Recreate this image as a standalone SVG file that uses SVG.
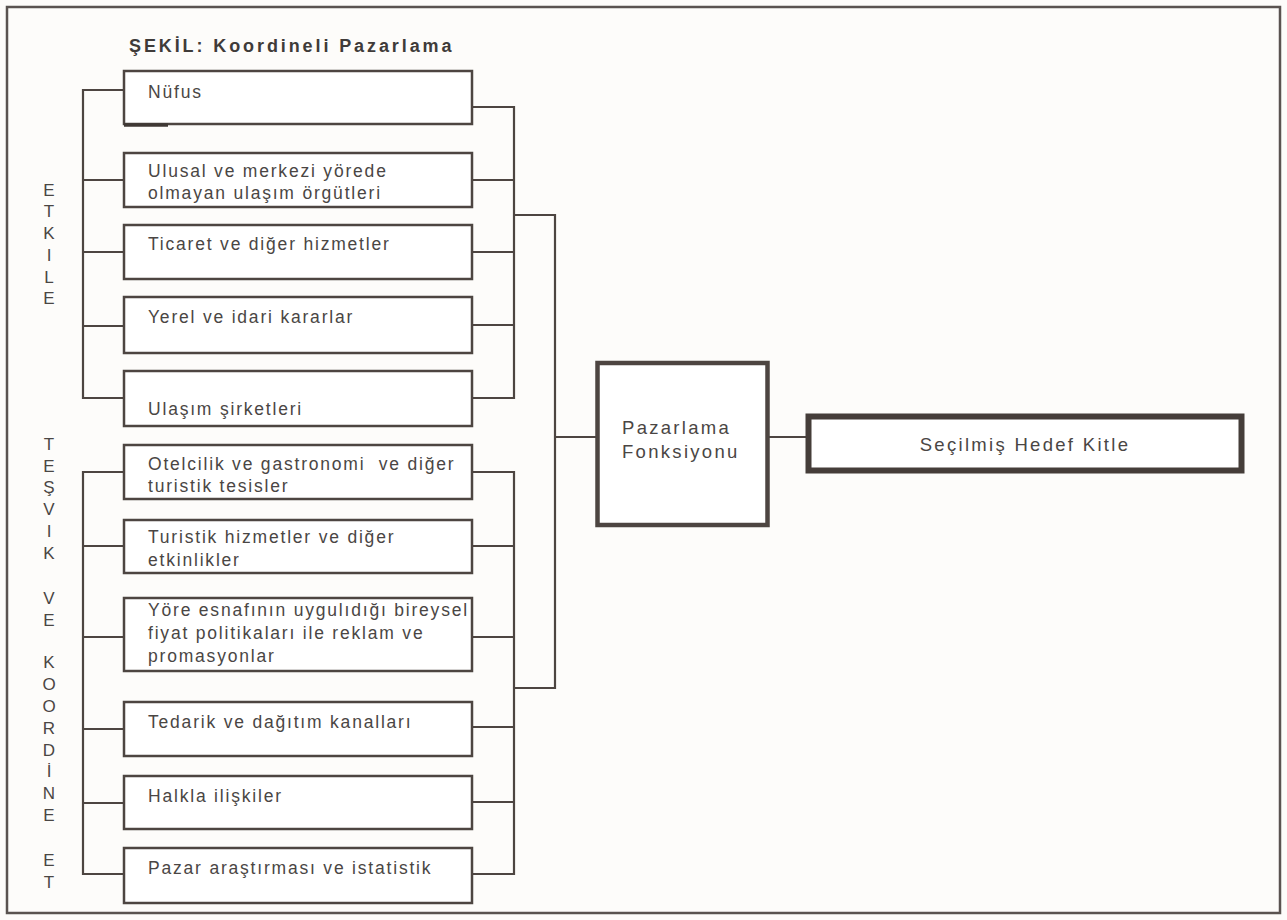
<svg xmlns="http://www.w3.org/2000/svg" width="1287" height="920" viewBox="0 0 1287 920">
<style>
.bg{fill:#fdfcfa}
.frame{fill:none;stroke:#5a5350;stroke-width:2.5}
.box{fill:#ffffff;stroke:#4d4541;stroke-width:2.5}
.thick{fill:#ffffff;stroke:#4d4541;stroke-width:4.5}
.thicker{fill:#ffffff;stroke:#453d39;stroke-width:6}
.conn{fill:none;stroke:#4d4541;stroke-width:2.2}
.t{font-family:"Liberation Sans",Arial,Helvetica,sans-serif;font-size:17.5px;letter-spacing:1.8px;fill:#4a4644}
.v{font-family:"Liberation Sans",Arial,Helvetica,sans-serif;font-size:17px;fill:#4a4644;text-anchor:middle}
.title{font-family:"Liberation Sans",Arial,Helvetica,sans-serif;font-size:18px;font-weight:bold;letter-spacing:2.9px;fill:#3f3b39}
.big{font-family:"Liberation Sans",Arial,Helvetica,sans-serif;font-size:18.5px;letter-spacing:2.3px;fill:#4a4644}
</style>
<rect class="bg" x="0" y="0" width="1287" height="920"/>
<rect class="frame" x="7" y="7" width="1273" height="906"/>
<text class="title" x="129" y="52">ŞEKİL: Koordineli Pazarlama</text>

<g id="letters-etkile">
<text class="v" x="49" y="196">E</text>
<text class="v" x="49" y="217">T</text>
<text class="v" x="49" y="239">K</text>
<text class="v" x="49" y="261">I</text>
<text class="v" x="49" y="283">L</text>
<text class="v" x="49" y="304">E</text>
</g>
<g id="letters-tesvik">
<text class="v" x="49" y="450">T</text>
<text class="v" x="49" y="472">E</text>
<text class="v" x="49" y="493">Ş</text>
<text class="v" x="49" y="515">V</text>
<text class="v" x="49" y="537">I</text>
<text class="v" x="49" y="559">K</text>
<text class="v" x="49" y="604">V</text>
<text class="v" x="49" y="626">E</text>
<text class="v" x="49" y="668">K</text>
<text class="v" x="49" y="690">O</text>
<text class="v" x="49" y="712">O</text>
<text class="v" x="49" y="734">R</text>
<text class="v" x="49" y="756">D</text>
<text class="v" x="49" y="777">İ</text>
<text class="v" x="49" y="799">N</text>
<text class="v" x="49" y="821">E</text>
<text class="v" x="49" y="866">E</text>
<text class="v" x="49" y="888">T</text>
</g>

<g id="connectors">
<path class="conn" d="M124,90 H83 V398 H124 M83,180 H124 M83,252 H124 M83,326 H124"/>
<path class="conn" d="M472,107 H514 V398 H472 M472,180 H514 M472,252 H514 M472,325 H514"/>
<path class="conn" d="M124,472 H83 V874 H124 M83,546 H124 M83,637 H124 M83,729 H124 M83,803 H124"/>
<path class="conn" d="M472,472 H514 V874 H472 M472,546 H514 M472,637 H514 M472,727 H514 M472,802 H514"/>
<path class="conn" d="M514,215 H555 V688 H514 M555,437 H596"/>
<path class="conn" d="M769,437 H806"/>
</g>

<g id="node-nufus">
<rect class="box" x="124" y="71" width="348" height="53"/>
<line x1="124" y1="125" x2="168" y2="125" stroke="#3f3834" stroke-width="3.5"/>
<text class="t" x="148" y="98">Nüfus</text>
</g>
<g id="node-ulusal">
<rect class="box" x="124" y="153" width="348" height="54"/>
<text class="t" x="148" y="177">Ulusal ve merkezi yörede</text>
<text class="t" x="148" y="199">olmayan ulaşım örgütleri</text>
</g>
<g id="node-ticaret">
<rect class="box" x="124" y="225" width="348" height="54"/>
<text class="t" x="148" y="250">Ticaret ve diğer hizmetler</text>
</g>
<g id="node-yerel">
<rect class="box" x="124" y="297" width="348" height="56"/>
<text class="t" x="148" y="323">Yerel ve idari kararlar</text>
</g>
<g id="node-ulasim">
<rect class="box" x="124" y="371" width="348" height="55"/>
<text class="t" x="148" y="415">Ulaşım şirketleri</text>
</g>
<g id="node-otelcilik">
<rect class="box" x="124" y="445" width="348" height="54"/>
<text class="t" x="148" y="470" xml:space="preserve">Otelcilik ve gastronomi  ve diğer</text>
<text class="t" x="148" y="492">turistik tesisler</text>
</g>
<g id="node-turistik">
<rect class="box" x="124" y="520" width="348" height="53"/>
<text class="t" x="148" y="543">Turistik hizmetler ve diğer</text>
<text class="t" x="148" y="566">etkinlikler</text>
</g>
<g id="node-yore">
<rect class="box" x="124" y="598" width="348" height="73"/>
<text class="t" x="148" y="616">Yöre esnafının uygulıdığı bireysel</text>
<text class="t" x="148" y="639">fiyat politikaları ile reklam ve</text>
<text class="t" x="148" y="662">promasyonlar</text>
</g>
<g id="node-tedarik">
<rect class="box" x="124" y="702" width="348" height="54"/>
<text class="t" x="148" y="728">Tedarik ve dağıtım kanalları</text>
</g>
<g id="node-halkla">
<rect class="box" x="124" y="776" width="348" height="53"/>
<text class="t" x="148" y="802">Halkla ilişkiler</text>
</g>
<g id="node-pazar">
<rect class="box" x="124" y="848" width="348" height="55"/>
<text class="t" x="148" y="874">Pazar araştırması ve istatistik</text>
</g>

<g id="node-pazarlama">
<rect class="thick" x="597.5" y="363" width="170" height="162"/>
<text class="big" x="622" y="434">Pazarlama</text>
<text class="big" x="622" y="458">Fonksiyonu</text>
</g>
<g id="node-secilmis">
<rect class="thicker" x="808.5" y="416.5" width="433" height="54"/>
<text class="big" x="1025" y="451" text-anchor="middle">Seçilmiş Hedef Kitle</text>
</g>
</svg>
